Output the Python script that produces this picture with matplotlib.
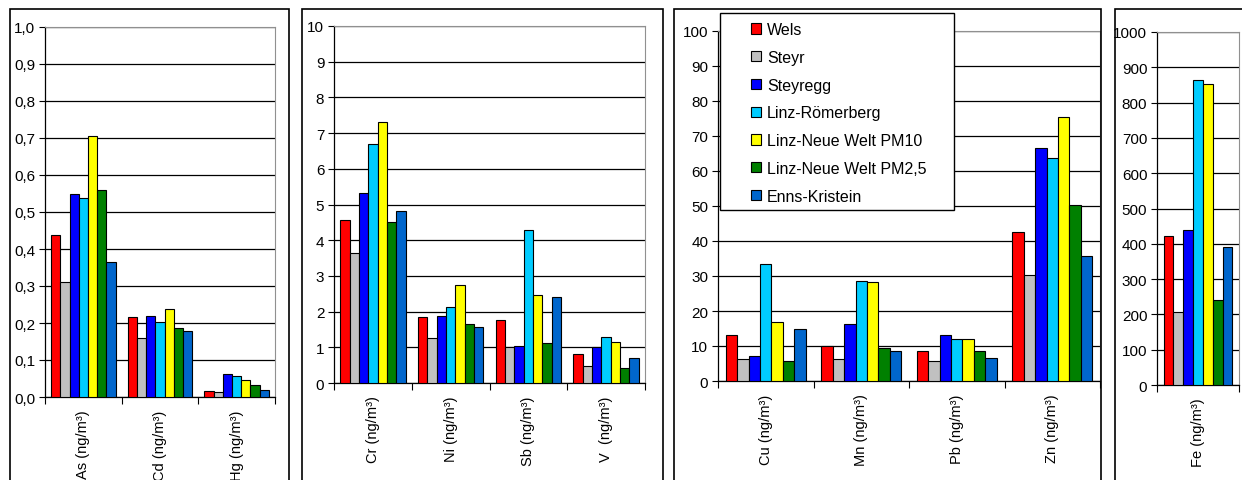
import matplotlib.pyplot as plt
import numpy as np
from matplotlib.patches import Rectangle

plt.rcParams['font.family'] = ['Liberation Sans', 'DejaVu Sans']

W, H = 1242, 481

stations = ["Wels", "Steyr", "Steyregg", "Linz-Römerberg",
            "Linz-Neue Welt PM10", "Linz-Neue Welt PM2,5", "Enns-Kristein"]
colors = ["#FF0000", "#C0C0C0", "#0000FF", "#00CCFF", "#FFFF00", "#008000", "#0066CC"]

# one row per station, one column per element
cats1 = ["As (ng/m³)", "Cd (ng/m³)", "Hg (ng/m³)"]
vals1 = [[0.439, 0.215, 0.016],
         [0.311, 0.159, 0.014],
         [0.548, 0.218, 0.063],
         [0.539, 0.203, 0.056],
         [0.705, 0.238, 0.045],
         [0.559, 0.187, 0.032],
         [0.365, 0.179, 0.019]]
ticks1 = ["0,0", "0,1", "0,2", "0,3", "0,4", "0,5", "0,6", "0,7", "0,8", "0,9", "1,0"]

cats2 = ["Cr (ng/m³)", "Ni (ng/m³)", "Sb (ng/m³)", "V  (ng/m³)"]
vals2 = [[4.56, 1.84, 1.76, 0.80],
         [3.65, 1.27, 1.00, 0.47],
         [5.31, 1.89, 1.04, 1.00],
         [6.70, 2.13, 4.29, 1.29],
         [7.31, 2.75, 2.47, 1.14],
         [4.50, 1.64, 1.12, 0.43],
         [4.81, 1.56, 2.42, 0.70]]

cats3 = ["Cu (ng/m³)", "Mn (ng/m³)", "Pb (ng/m³)", "Zn (ng/m³)"]
vals3 = [[13.2, 10.0, 8.7, 42.5],
         [6.2, 6.2, 5.6, 30.2],
         [7.1, 16.2, 13.2, 66.5],
         [33.4, 28.7, 12.0, 63.6],
         [16.9, 28.4, 12.0, 75.4],
         [5.7, 9.4, 8.5, 50.4],
         [14.8, 8.7, 6.6, 35.6]]

cats4 = ["Fe (ng/m³)"]
vals4 = [[421], [207], [440], [864], [854], [241], [390]]


def px_axes(fig, left, right, top, bottom):
    return fig.add_axes([left / W, 1 - bottom / H, (right - left) / W, (bottom - top) / H])


def bar_panel(ax, cats, vals, ymax, step, ticklabels=None):
    n = len(cats)
    bw = 0.12
    for j, (name, col) in enumerate(zip(stations, colors)):
        x = np.arange(n) + 0.5 + (j - 3) * bw
        ax.bar(x, vals[j], width=bw, color=col, edgecolor="black", linewidth=0.8,
               label=name, zorder=3)
    ax.set_xlim(0, n)
    ax.set_ylim(0, ymax)
    yt = np.arange(0, ymax + step / 2, step)
    ax.set_yticks(yt)
    if ticklabels is not None:
        ax.set_yticklabels(ticklabels)
    ax.yaxis.grid(True, color="black", linewidth=0.9, zorder=0)
    ax.set_axisbelow(True)
    ax.set_xticks(np.arange(n + 1))
    ax.set_xticklabels([])
    ax.set_xticks(np.arange(n) + 0.5, minor=True)
    ax.set_xticklabels(cats, minor=True, rotation=90, va="top", ha="center")
    ax.tick_params(axis="x", which="major", direction="out", length=5, width=0.8)
    ax.tick_params(axis="x", which="minor", length=0, pad=9, labelsize=10.5)
    ax.tick_params(axis="y", direction="out", length=4, width=0.8, labelsize=11, pad=3)
    for s in ["top", "right"]:
        ax.spines[s].set_color("#909090")
    for s in ["left", "bottom"]:
        ax.spines[s].set_color("black")
        ax.spines[s].set_linewidth(0.9)


fig = plt.figure(figsize=(W / 100, H / 100), dpi=100)

ax1 = px_axes(fig, 45, 275, 28, 398)
bar_panel(ax1, cats1, vals1, 1.0, 0.1, ticks1)

ax2 = px_axes(fig, 334, 645, 27, 384)
bar_panel(ax2, cats2, vals2, 10, 1)

ax3 = px_axes(fig, 718, 1100, 32, 382)
bar_panel(ax3, cats3, vals3, 100, 10)

ax4 = px_axes(fig, 1157, 1239, 33, 386)
bar_panel(ax4, cats4, vals4, 1000, 100)

# chart area frames
for left, right in [(10, 289), (302, 663), (674, 1101), (1115, 1260)]:
    fig.patches.append(Rectangle((left / W, -0.2), (right - left) / W, 1.2 - 10 / H,
                                 transform=fig.transFigure, facecolor="none",
                                 edgecolor="black", linewidth=1.2, zorder=2))

# legend box
fig.patches.append(Rectangle((720 / W, 1 - 211 / H), (954 - 720) / W, (211 - 14) / H,
                             transform=fig.transFigure, facecolor="white",
                             edgecolor="black", linewidth=1.0, zorder=2))
handles, labels = ax3.get_legend_handles_labels()
fig.legend(handles, labels, loc="upper left", bbox_to_anchor=(751 / W, 1 - 23 / H),
           frameon=False, fontsize=11.5, borderpad=0, borderaxespad=0,
           handlelength=0.62, handleheight=0.62, handletextpad=0.38,
           labelspacing=0.8)

fig.savefig("out.png", dpi=100)
